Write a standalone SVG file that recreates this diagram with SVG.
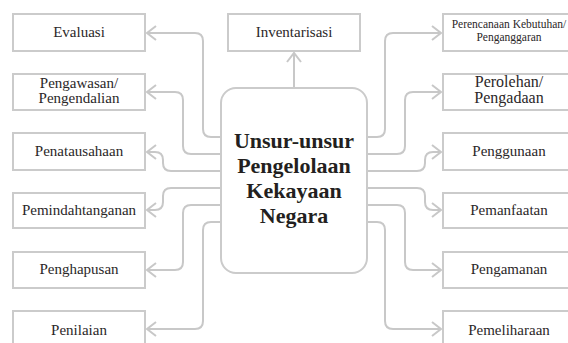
<svg xmlns="http://www.w3.org/2000/svg" width="568" height="343" viewBox="0 0 568 343">
<style>
.box{fill:#fff;stroke:#cbcbcb;stroke-width:2}
.lbl{font-family:"Liberation Serif","Times New Roman",serif;font-size:15px;fill:#2b2728;text-anchor:middle}
.sm{font-size:11.5px}
.big{font-family:"Liberation Serif","Times New Roman",serif;font-size:22px;font-weight:bold;fill:#231f20;text-anchor:middle}
.con{fill:none;stroke:#c8c8c8;stroke-width:2;marker-end:url(#chev)}
</style>
<defs>
<marker id="chev" viewBox="-12 -9 14 18" refX="0" refY="0" markerWidth="14" markerHeight="18" markerUnits="userSpaceOnUse" orient="auto">
<path d="M-9,-7 L0,0 L-9,7" fill="none" stroke="#c8c8c8" stroke-width="2"/>
</marker>
</defs>
<rect width="568" height="343" fill="#fff"/>
<g id="connectors">
<path class="con" d="M221,137 H211 Q203,137 203,129 V41 Q203,33 195,33 H147"/>
<path class="con" d="M221,154 H191 Q183,154 183,146 V100 Q183,92 175,92 H147"/>
<path class="con" d="M221,171 H171 Q163,171 163,163 V160 Q163,152 155,152 H147"/>
<path class="con" d="M221,188 H171 Q163,188 163,196 V202 Q163,210 155,210 H147"/>
<path class="con" d="M221,205 H191 Q183,205 183,213 V262 Q183,270 175,270 H147"/>
<path class="con" d="M221,222 H211 Q203,222 203,230 V321 Q203,329 195,329 H147"/>
<path class="con" d="M367,137 H377 Q385,137 385,129 V41 Q385,33 393,33 H441"/>
<path class="con" d="M367,154 H397 Q405,154 405,146 V100 Q405,92 413,92 H441"/>
<path class="con" d="M367,171 H417 Q425,171 425,163 V160 Q425,152 433,152 H441"/>
<path class="con" d="M367,188 H417 Q425,188 425,196 V202 Q425,210 433,210 H441"/>
<path class="con" d="M367,205 H397 Q405,205 405,213 V262 Q405,270 413,270 H441"/>
<path class="con" d="M367,222 H377 Q385,222 385,230 V321 Q385,329 393,329 H441"/>
<path class="con" d="M294,88 V53"/>
</g>
<g id="center">
<rect class="box" x="221" y="88" width="146" height="185" rx="15"/>
<text class="big" x="294" y="148">Unsur-unsur</text>
<text class="big" x="294" y="173">Pengelolaan</text>
<text class="big" x="294" y="198">Kekayaan</text>
<text class="big" x="294" y="223">Negara</text>
</g>
<g id="evaluasi"><rect class="box" x="13" y="14" width="132" height="37"/><text class="lbl" x="79" y="37">Evaluasi</text></g>
<g id="pengawasan"><rect class="box" x="13" y="74" width="132" height="36"/><text class="lbl" x="79" y="88">Pengawasan/</text><text class="lbl" x="79" y="103">Pengendalian</text></g>
<g id="penatausahaan"><rect class="box" x="13" y="133" width="132" height="37"/><text class="lbl" x="79" y="156">Penatausahaan</text></g>
<g id="pemindahtanganan"><rect class="box" x="13" y="193" width="132" height="35"/><text class="lbl" x="79" y="215">Pemindahtanganan</text></g>
<g id="penghapusan"><rect class="box" x="13" y="252" width="132" height="36"/><text class="lbl" x="79" y="274">Penghapusan</text></g>
<g id="penilaian"><rect class="box" x="13" y="311" width="132" height="37"/><text class="lbl" x="79" y="335">Penilaian</text></g>
<g id="inventarisasi"><rect class="box" x="228" y="14" width="132" height="37"/><text class="lbl" x="294" y="37">Inventarisasi</text></g>
<g id="perencanaan"><rect class="box" x="443" y="14" width="132" height="37"/><text class="lbl sm" x="509" y="28">Perencanaan Kebutuhan/</text><text class="lbl sm" x="509" y="41">Penganggaran</text></g>
<g id="perolehan"><rect class="box" x="443" y="74" width="132" height="36"/><text class="lbl" x="509" y="87" style="font-size:16px">Perolehan/</text><text class="lbl" x="509" y="103" style="font-size:16px">Pengadaan</text></g>
<g id="penggunaan"><rect class="box" x="443" y="133" width="132" height="37"/><text class="lbl" x="509" y="156">Penggunaan</text></g>
<g id="pemanfaatan"><rect class="box" x="443" y="193" width="132" height="35"/><text class="lbl" x="509" y="215">Pemanfaatan</text></g>
<g id="pengamanan"><rect class="box" x="443" y="252" width="132" height="36"/><text class="lbl" x="509" y="274">Pengamanan</text></g>
<g id="pemeliharaan"><rect class="box" x="443" y="311" width="132" height="37"/><text class="lbl" x="509" y="335">Pemeliharaan</text></g>
</svg>
